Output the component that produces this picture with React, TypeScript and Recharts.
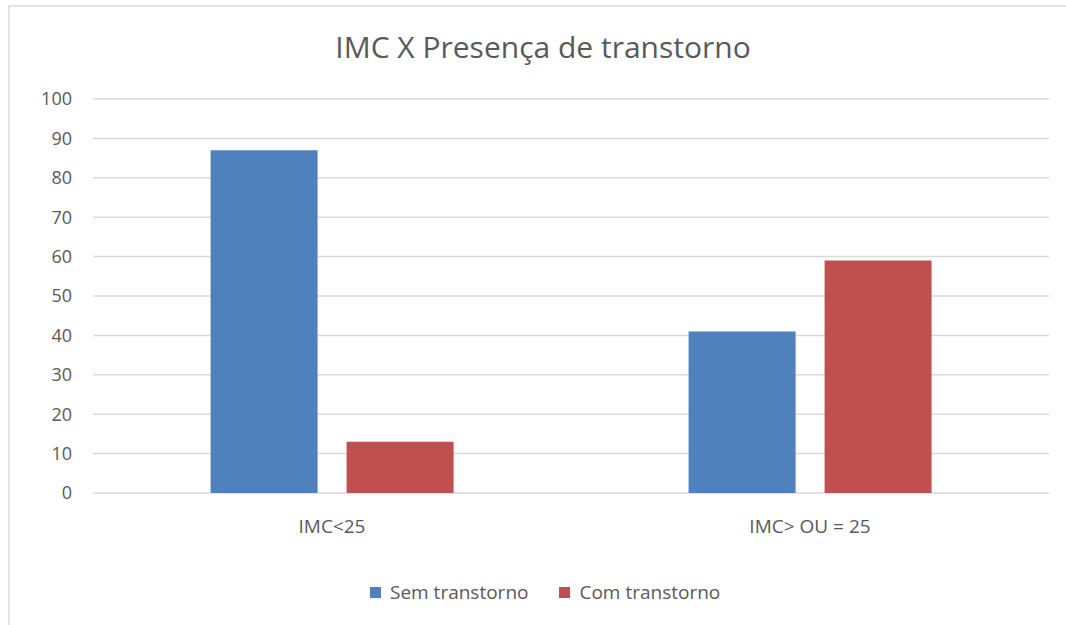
import React from "react";
import { BarChart, Bar, XAxis, YAxis, CartesianGrid } from "recharts";

const categories = ["IMC<25", "IMC> OU = 25"];
const semTranstorno = [87, 41];
const comTranstorno = [13, 59];
const yTicks = [0, 10, 20, 30, 40, 50, 60, 70, 80, 90, 100];
const seriesNames = ["Sem transtorno", "Com transtorno"];
const seriesColors = ["#4f81bd", "#c0504d"];

const data = categories.map((c, i) => ({
  name: c,
  sem: semTranstorno[i],
  com: comTranstorno[i],
}));

const FONT = "'Open Sans', sans-serif";
const TEXT = "#595959";

export default function App() {
  return (
    <div style={{ position: "absolute", left: 0, top: 0, width: 1066, height: 625, background: "#fff", overflow: "hidden" }}>
      <div style={{ position: "absolute", left: 8, top: 5, width: 1058, height: 2, background: "#e3e3e3" }} />
      <div style={{ position: "absolute", left: 8, top: 5, width: 2, height: 620, background: "#e3e3e3" }} />
      <div
        style={{
          position: "absolute",
          left: 0,
          width: 1086,
          top: 26,
          textAlign: "center",
          fontFamily: FONT,
          fontSize: 30,
          color: TEXT,
        }}
      >
        IMC X Presença de transtorno
      </div>
      <div style={{ position: "absolute", left: 0, top: 0 }}>
        <BarChart
          width={1066}
          height={625}
          data={data}
          margin={{ top: 99, right: 17, left: 0, bottom: 72 }}
          barGap={29}
          barCategoryGap="24.6%"
        >
          <CartesianGrid vertical={false} stroke="#d9d9d9" strokeWidth={1.5} />
          <XAxis
            dataKey="name"
            axisLine={false}
            tickLine={false}
            tickSize={0}
            tickMargin={27}
            height={60}
            tick={{ fill: TEXT, fontSize: 19, fontFamily: FONT }}
          />
          <YAxis
            domain={[0, 100]}
            ticks={yTicks}
            axisLine={false}
            tickLine={false}
            tickSize={0}
            tickMargin={21}
            width={93}
            tick={{ fill: TEXT, fontSize: 18, fontFamily: FONT }}
          />
          <Bar dataKey="sem" name={seriesNames[0]} fill={seriesColors[0]} isAnimationActive={false} />
          <Bar dataKey="com" name={seriesNames[1]} fill={seriesColors[1]} isAnimationActive={false} />
        </BarChart>
      </div>
      <div
        style={{
          position: "absolute",
          left: 370,
          top: 579,
          display: "flex",
          alignItems: "center",
          fontFamily: FONT,
          fontSize: 19,
          color: TEXT,
        }}
      >
        {seriesNames.map((n, i) => (
          <div key={n} style={{ display: "flex", alignItems: "center", marginRight: i === 0 ? 31 : 0 }}>
            <span style={{ display: "inline-block", width: 11, height: 11, background: seriesColors[i], marginRight: 9 }} />
            <span>{n}</span>
          </div>
        ))}
      </div>
    </div>
  );
}
